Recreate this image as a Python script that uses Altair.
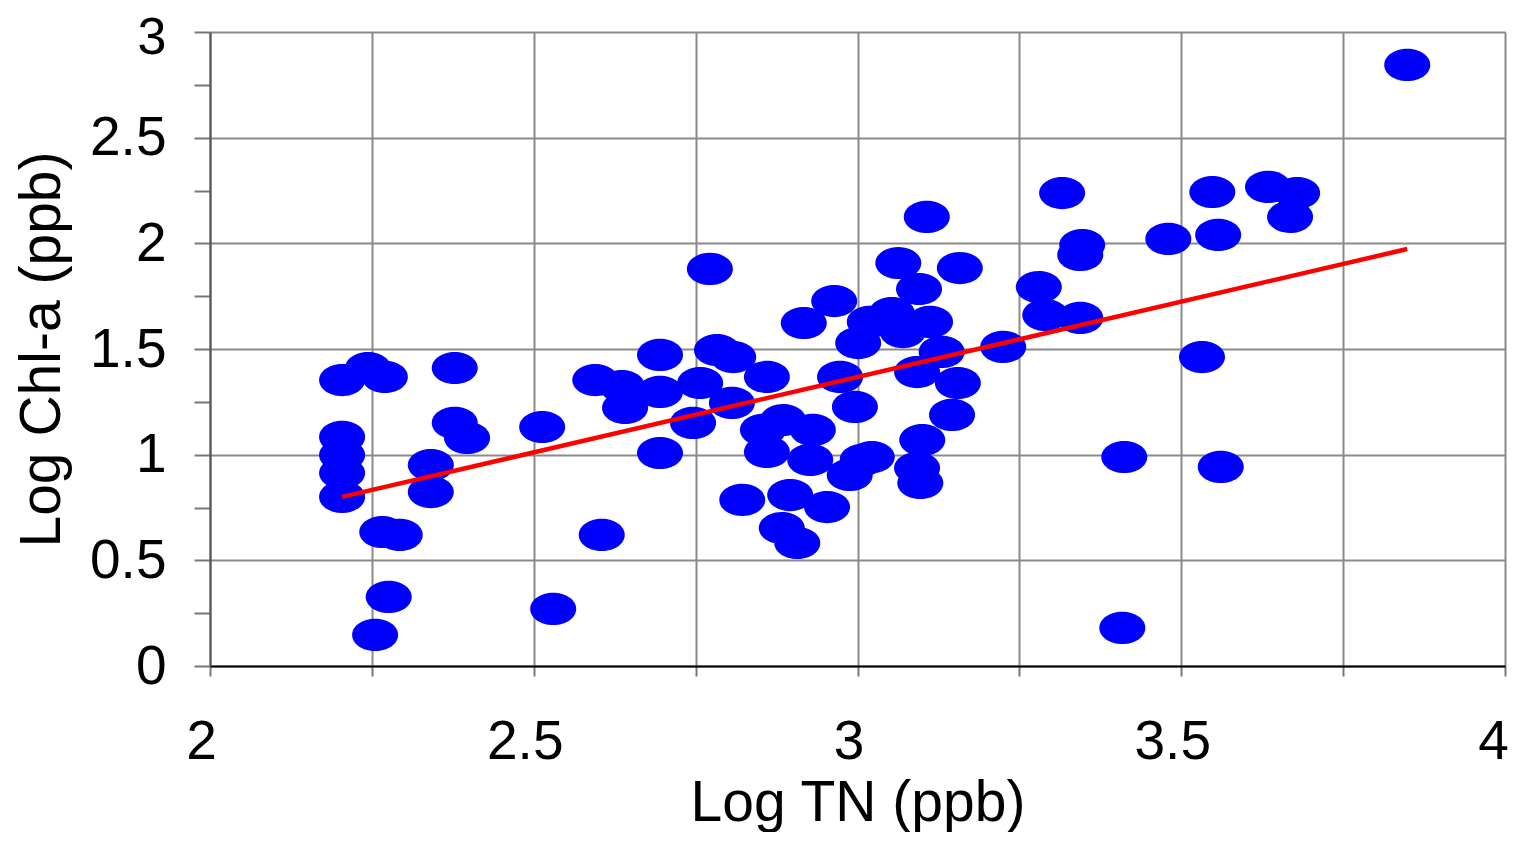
import altair as alt
import pandas as pd

# Log TN (ppb)
log_tn = [
    2.204, 2.204, 2.204, 2.204, 2.204, 2.244, 2.270, 2.378, 2.378, 2.397,
    2.341, 2.341, 2.513, 2.266, 2.293, 2.605, 2.276, 2.255, 2.530,
    2.695, 2.783, 2.808, 2.595, 2.636, 2.641, 2.695, 2.757, 2.746, 2.806,
    2.695, 2.772,
    2.860, 2.973, 2.996, 2.854, 2.885, 2.931, 2.860, 2.927, 3.008, 2.988,
    2.822, 2.896, 2.953, 2.883, 2.907, 2.917, 2.964, 3.063, 3.158, 3.095,
    3.107, 3.019, 3.053, 3.112, 3.070, 3.001, 3.130, 3.092, 3.155, 3.146,
    3.100, 3.022, 3.092, 3.097,
    3.225, 3.280, 3.290, 3.344, 3.347, 3.344, 3.316, 3.480, 3.548, 3.557,
    3.634, 3.679, 3.668, 3.532, 3.412, 3.561, 3.409, 3.849,
]
# Log Chl-a (ppb)
log_chla = [
    1.353, 1.084, 0.998, 0.913, 0.800, 1.410, 1.368, 1.410, 1.150, 1.079,
    0.951, 0.823, 1.131, 0.634, 0.620, 0.620, 0.327, 0.147, 0.270,
    1.472, 1.495, 1.462, 1.353, 1.325, 1.221, 1.297, 1.339, 1.150, 1.245,
    1.008, 1.879,
    1.368, 1.368, 1.226, 1.117, 1.164, 1.117, 1.013, 0.975, 0.975, 0.904,
    0.786, 0.809, 0.752, 0.653, 0.582, 1.623, 1.727, 1.907, 1.883, 1.784,
    2.125, 1.628, 1.670, 1.628, 1.580, 1.528, 1.486, 1.391, 1.339, 1.188,
    1.069, 0.989, 0.937, 0.866,
    1.510, 1.793, 1.661, 1.647, 1.992, 1.945, 2.238, 2.021, 2.243, 2.040,
    2.267, 2.238, 2.125, 1.462, 0.989, 0.942, 0.180, 2.844,
]

# Regression line end points
fit_x = [2.204, 3.849]
fit_y = [0.800, 1.973]

x_ticks = [2.0, 2.25, 2.5, 2.75, 3.0, 3.25, 3.5, 3.75, 4.0]
y_ticks = [0.0, 0.25, 0.5, 0.75, 1.0, 1.25, 1.5, 1.75, 2.0, 2.25, 2.5, 2.75, 3.0]

pts = pd.DataFrame({"tn": log_tn, "chla": log_chla})
fit = pd.DataFrame({"tn": fit_x, "chla": fit_y})

FONT = "Liberation Sans"
ELLIPSE = "M-1,0A1,0.7,0,1,1,1,0A1,0.7,0,1,1,-1,0Z"

x_scale = alt.Scale(domain=[2, 4], nice=False, zero=False)
y_scale = alt.Scale(domain=[0, 3], nice=False, zero=False)

x_axis = alt.Axis(
    title="Log TN (ppb)",
    values=x_ticks,
    labelExpr="datum.value % 0.5 === 0 ? format(datum.value, '') : ''",
    labelFont=FONT, labelFontSize=55, labelColor="black",
    labelPadding=39, labelFlush=False,
    labelOffset={"condition": {"test": "datum.value === 4", "value": -12}, "value": -9},
    titleFont=FONT, titleFontSize=57, titleFontWeight="normal", titleColor="black",
    titlePadding=6,
    tickSize=10, tickColor="#777777", tickWidth=2,
    domainColor="black", domainWidth=2,
    grid=True, gridColor="#8a8a8a", gridWidth=2,
)

y_axis = alt.Axis(
    title="Log Chl-a (ppb)",
    values=y_ticks,
    labelExpr="datum.value % 0.5 === 0 ? format(datum.value, '') : ''",
    labelFont=FONT, labelColor="black",
    labelFontSize={"condition": {"test": "datum.value === 3", "value": 52}, "value": 55},
    labelPadding=28, labelFlush=False,
    labelOffset={"condition": {"test": "datum.value === 3", "value": 5}, "value": 0},
    titleFont=FONT, titleFontSize=57, titleFontWeight="normal", titleColor="black",
    titlePadding=18,
    tickSize=16, tickColor="#777777", tickWidth=2,
    domainColor="#555555", domainWidth=2,
    grid=True, gridColor="#8a8a8a", gridWidth=2,
    gridOpacity={"condition": {"test": "datum.value % 0.5 === 0", "value": 1}, "value": 0},
)

points = alt.Chart(pts).mark_point(
    shape=ELLIPSE, filled=True, size=2116, color="#0000ff", opacity=1, strokeWidth=0
).encode(
    x=alt.X("tn:Q", scale=x_scale, axis=x_axis),
    y=alt.Y("chla:Q", scale=y_scale, axis=y_axis),
)

line = alt.Chart(fit).mark_line(color="#ff0000", strokeWidth=4.5).encode(
    x=alt.X("tn:Q", scale=x_scale),
    y=alt.Y("chla:Q", scale=y_scale),
)

chart = alt.layer(points, line).properties(
    width=1295,
    height=634,
    autosize=alt.AutoSizeParams(type="none"),
    padding={"left": 202, "top": 24, "right": 4, "bottom": 166},
).configure_view(
    stroke="#333333", strokeWidth=2
).configure(background="white")

chart.save("out.html", embed_options={"renderer": "svg", "actions": False})
